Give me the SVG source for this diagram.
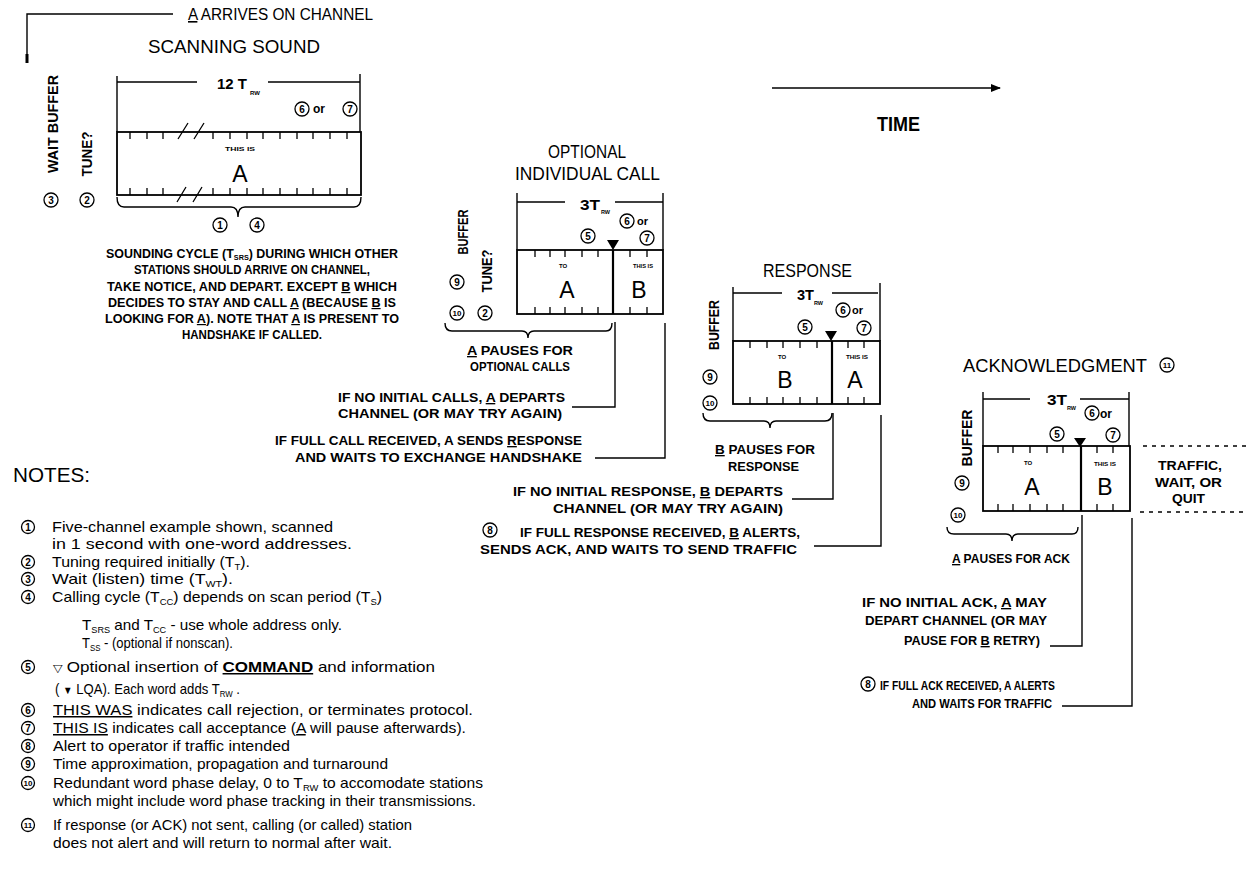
<svg xmlns="http://www.w3.org/2000/svg" width="1248" height="877" viewBox="0 0 1248 877">
<style>
text { font-family: "Liberation Sans", Arial, sans-serif; fill: #000; }
.b { font-weight: bold; }
.ln { stroke: #000; stroke-width: 1.4; fill: none; }
.tk { stroke: #000; stroke-width: 1.3; fill: none; }
.box { stroke: #000; stroke-width: 1.8; fill: #fff; }
.div { stroke: #000; stroke-width: 2.2; }
.dot { stroke: #000; stroke-width: 1.5; stroke-dasharray: 4 5; fill: none; }
.cn circle { fill: none; stroke: #000; stroke-width: 1.3; }
.cn text { font-size: 10px; font-weight: bold; text-anchor: middle; }
.cn text.s { font-size: 8px; }
.tiny { font-size: 6px; font-weight: bold; text-anchor: middle; }
.big { font-size: 23px; text-anchor: middle; }
.lab { font-size: 13.5px; font-weight: bold; }
.hd { font-size: 18px; }
.note { font-size: 15px; }
.sub { font-size: 9px; }
.sym { font-size: 11px; }
.u { text-decoration: underline; }
</style>
<defs>
<marker id="ah" markerWidth="10" markerHeight="8" refX="9" refY="4" orient="auto" markerUnits="userSpaceOnUse"><path d="M0,0 L10,4 L0,8 z" fill="#000"/></marker>
</defs>

<g id="connectors">
<path class="ln" d="M173,14 H27 V63"/>
<path d="M27,54 V63" stroke="#000" stroke-width="3"/>
<path class="ln" d="M772,88 H1000" marker-end="url(#ah)"/>
<path class="ln" d="M615,322 V407 H572"/>
<path class="ln" d="M665,323 V458 H595"/>
<path class="ln" d="M833,413 V499 H792"/>
<path class="ln" d="M881,415 V546 H814"/>
<path class="ln" d="M1082,515 V646 H1050"/>
<path class="ln" d="M1132,518 V706 H1062"/>
<path class="dot" d="M1143,446 H1248 M1140,512 H1248"/>
</g>

<g id="header">
<text x="188" y="20" font-size="16" textLength="185" lengthAdjust="spacingAndGlyphs"><tspan class="u">A</tspan> ARRIVES ON CHANNEL</text>
<text x="148" y="53" class="hd" font-size="20" textLength="172" lengthAdjust="spacingAndGlyphs">SCANNING SOUND</text>
<text x="877" y="131" class="b" font-size="21" textLength="43" lengthAdjust="spacingAndGlyphs">TIME</text>
</g>

<g id="scanning-sound">
<path class="ln" d="M117,76 V132 M360,74 V132 M117,82 H197 M268,82 H360"/>
<text x="217" y="89" class="b" font-size="15" textLength="30" lengthAdjust="spacingAndGlyphs">12 T</text>
<text x="250" y="95" class="b" font-size="6">RW</text>
<g class="cn"><circle cx="302" cy="109" r="7"/><text x="302" y="112.5">6</text></g>
<text x="313" y="113" class="b" font-size="12">or</text>
<g class="cn"><circle cx="350" cy="109" r="7"/><text x="350" y="112.5">7</text></g>
<rect class="box" x="117" y="132" width="244" height="63"/>
<path class="tk" d="M130,132 v7 M147,132 v7 M163,132 v7 M213,132 v7 M230,132 v7 M247,132 v7 M263,132 v7 M280,132 v7 M297,132 v7 M313,132 v7 M330,132 v7 M347,132 v7 M130,195 v-7 M147,195 v-7 M163,195 v-7 M213,195 v-7 M230,195 v-7 M247,195 v-7 M263,195 v-7 M280,195 v-7 M297,195 v-7 M313,195 v-7 M330,195 v-7 M347,195 v-7"/>
<path class="tk" d="M178,139 L188,123 M194,139 L204,123 M177,202 L186,187 M193,202 L202,187"/>
<text x="240" y="151" class="tiny" textLength="30" lengthAdjust="spacingAndGlyphs">THIS IS</text>
<text x="240" y="182" class="big" font-size="25">A</text>
<path class="ln" d="M117,197 Q117,207 124,207 H231 Q238,207 238,217 Q238,207 245,207 H354 Q361,207 361,197"/>
<g class="cn"><circle cx="220" cy="225" r="7"/><text x="220" y="228.5">1</text></g>
<g class="cn"><circle cx="257" cy="225" r="7"/><text x="257" y="228.5">4</text></g>
<text transform="translate(58,124) rotate(-90)" class="b" font-size="15" text-anchor="middle" textLength="98" lengthAdjust="spacingAndGlyphs">WAIT BUFFER</text>
<text transform="translate(92,154) rotate(-90)" class="b" font-size="15" text-anchor="middle" textLength="45" lengthAdjust="spacingAndGlyphs">TUNE?</text>
<g class="cn"><circle cx="51" cy="200" r="7"/><text x="51" y="203.5">3</text></g>
<g class="cn"><circle cx="87" cy="200" r="7"/><text x="87" y="203.5">2</text></g>
<g class="b" font-size="12" text-anchor="middle">
<text x="252" y="258" textLength="292" lengthAdjust="spacingAndGlyphs">SOUNDING CYCLE (T<tspan font-size="7" dy="2">SRS</tspan><tspan dy="-2">) DURING WHICH OTHER</tspan></text>
<text x="252" y="274" textLength="236" lengthAdjust="spacingAndGlyphs">STATIONS SHOULD ARRIVE ON CHANNEL,</text>
<text x="252" y="291" textLength="290" lengthAdjust="spacingAndGlyphs">TAKE NOTICE, AND DEPART.  EXCEPT <tspan class="u">B</tspan> WHICH</text>
<text x="252" y="307" textLength="288" lengthAdjust="spacingAndGlyphs">DECIDES TO STAY AND CALL <tspan class="u">A</tspan> (BECAUSE <tspan class="u">B</tspan> IS</text>
<text x="252" y="323" textLength="294" lengthAdjust="spacingAndGlyphs">LOOKING FOR <tspan class="u">A</tspan>). NOTE THAT <tspan class="u">A</tspan> IS PRESENT TO</text>
<text x="252" y="339" textLength="140" lengthAdjust="spacingAndGlyphs">HANDSHAKE IF CALLED.</text>
</g>
</g>

<g id="optional-individual-call">
<text x="587" y="158" class="hd" text-anchor="middle" textLength="78" lengthAdjust="spacingAndGlyphs">OPTIONAL</text>
<text x="515" y="180" class="hd" textLength="145" lengthAdjust="spacingAndGlyphs">INDIVIDUAL CALL</text>
<path class="ln" d="M517,193 V250 M663,193 V250 M517,202 H565 M615,202 H663"/>
<text x="580" y="210" class="b" font-size="14" textLength="20" lengthAdjust="spacingAndGlyphs">3T</text>
<text x="601" y="214" class="b" font-size="5.5">RW</text>
<g class="cn"><circle cx="627" cy="221" r="7"/><text x="627" y="224.5">6</text></g>
<text x="637" y="225" class="b" font-size="11">or</text>
<g class="cn"><circle cx="588" cy="236" r="7"/><text x="588" y="239.5">5</text></g>
<g class="cn"><circle cx="647" cy="238" r="7"/><text x="647" y="241.5">7</text></g>
<polygon points="607,240 619,240 613,250" fill="#000"/>
<rect class="box" x="517" y="250" width="146" height="64"/>
<path class="div" d="M613,250 V314"/>
<path class="tk" d="M535,250 v7 M550,250 v7 M565,250 v7 M582,250 v7 M598,250 v7 M630,250 v7 M647,250 v7 M535,314 v-7 M550,314 v-7 M565,314 v-7 M582,314 v-7 M598,314 v-7 M630,314 v-7 M647,314 v-7"/>
<text x="563" y="268" class="tiny">TO</text>
<text x="643" y="268" class="tiny" textLength="20" lengthAdjust="spacingAndGlyphs">THIS IS</text>
<text x="567" y="298" class="big">A</text>
<text x="639" y="298" class="big">B</text>
<text transform="translate(468,232) rotate(-90)" class="b" font-size="14" text-anchor="middle" textLength="45" lengthAdjust="spacingAndGlyphs">BUFFER</text>
<text transform="translate(492,271) rotate(-90)" class="b" font-size="14" text-anchor="middle" textLength="43" lengthAdjust="spacingAndGlyphs">TUNE?</text>
<g class="cn"><circle cx="457" cy="282" r="7"/><text x="457" y="285.5">9</text></g>
<g class="cn"><circle cx="457" cy="313" r="7"/><text class="s" x="457" y="316">10</text></g>
<g class="cn"><circle cx="485" cy="313" r="7"/><text x="485" y="316.5">2</text></g>
<path class="ln" d="M445,323 Q445,331 452,331 H522 Q528,331 528,338 Q528,331 534,331 H606 Q612,331 612,323"/>
<text x="467" y="355" class="lab" textLength="106" lengthAdjust="spacingAndGlyphs"><tspan class="u">A</tspan> PAUSES FOR</text>
<text x="520" y="371" class="lab" text-anchor="middle" textLength="100" lengthAdjust="spacingAndGlyphs">OPTIONAL CALLS</text>
<text x="565" y="402" class="lab" text-anchor="end" textLength="227" lengthAdjust="spacingAndGlyphs">IF NO INITIAL CALLS, <tspan class="u">A</tspan> DEPARTS</text>
<text x="562" y="418" class="lab" text-anchor="end" textLength="224" lengthAdjust="spacingAndGlyphs">CHANNEL (OR MAY TRY AGAIN)</text>
<text x="582" y="445" class="lab" text-anchor="end" textLength="307" lengthAdjust="spacingAndGlyphs">IF FULL CALL RECEIVED, A SENDS <tspan class="u">R</tspan>ESPONSE</text>
<text x="582" y="462" class="lab" text-anchor="end" textLength="287" lengthAdjust="spacingAndGlyphs">AND WAITS TO EXCHANGE HANDSHAKE</text>
</g>

<g id="response">
<text x="763" y="277" class="hd" textLength="89" lengthAdjust="spacingAndGlyphs">RESPONSE</text>
<path class="ln" d="M733,287 V341 M880,283 V341 M733,293 H782 M832,293 H878"/>
<text x="797" y="300" class="b" font-size="14" textLength="17" lengthAdjust="spacingAndGlyphs">3T</text>
<text x="814" y="305" class="b" font-size="5.5">RW</text>
<g class="cn"><circle cx="843" cy="310" r="7"/><text x="843" y="313.5">6</text></g>
<text x="852" y="314" class="b" font-size="11">or</text>
<g class="cn"><circle cx="805" cy="327" r="7"/><text x="805" y="330.5">5</text></g>
<g class="cn"><circle cx="864" cy="328" r="7"/><text x="864" y="331.5">7</text></g>
<polygon points="825,331 837,331 831,341" fill="#000"/>
<rect class="box" x="733" y="341" width="147" height="63"/>
<path class="div" d="M832,341 V404"/>
<path class="tk" d="M750,341 v7 M767,341 v7 M783,341 v7 M800,341 v7 M817,341 v7 M848,341 v7 M864,341 v7 M750,404 v-7 M767,404 v-7 M783,404 v-7 M800,404 v-7 M817,404 v-7 M848,404 v-7 M864,404 v-7"/>
<text x="782" y="359" class="tiny">TO</text>
<text x="857" y="359" class="tiny" textLength="22" lengthAdjust="spacingAndGlyphs">THIS IS</text>
<text x="785" y="388" class="big">B</text>
<text x="855" y="388" class="big">A</text>
<text transform="translate(719,325) rotate(-90)" class="b" font-size="14" text-anchor="middle" textLength="50" lengthAdjust="spacingAndGlyphs">BUFFER</text>
<g class="cn"><circle cx="710" cy="377" r="7"/><text x="710" y="380.5">9</text></g>
<g class="cn"><circle cx="710" cy="403" r="7"/><text class="s" x="710" y="406">10</text></g>
<path class="ln" d="M703,413 Q703,421 710,421 H764 Q770,421 770,428 Q770,421 776,421 H825 Q832,421 832,413"/>
<text x="715" y="454" class="lab" textLength="100" lengthAdjust="spacingAndGlyphs"><tspan class="u">B</tspan> PAUSES FOR</text>
<text x="728" y="471" class="lab" textLength="71" lengthAdjust="spacingAndGlyphs">RESPONSE</text>
<text x="783" y="496" class="lab" text-anchor="end" textLength="270" lengthAdjust="spacingAndGlyphs">IF NO INITIAL RESPONSE, <tspan class="u">B</tspan> DEPARTS</text>
<text x="783" y="513" class="lab" text-anchor="end" textLength="230" lengthAdjust="spacingAndGlyphs">CHANNEL (OR MAY TRY AGAIN)</text>
<g class="cn"><circle cx="490" cy="530" r="7"/><text x="490" y="533.5">8</text></g>
<text x="800" y="537" class="lab" text-anchor="end" textLength="280" lengthAdjust="spacingAndGlyphs">IF FULL RESPONSE RECEIVED, <tspan class="u">B</tspan> ALERTS,</text>
<text x="797" y="554" class="lab" text-anchor="end" textLength="317" lengthAdjust="spacingAndGlyphs">SENDS ACK, AND WAITS TO SEND TRAFFIC</text>
</g>

<g id="acknowledgment">
<text x="963" y="372" class="hd" textLength="184" lengthAdjust="spacingAndGlyphs">ACKNOWLEDGMENT</text>
<g class="cn"><circle cx="1167" cy="365" r="7"/><text class="s" x="1167" y="368">11</text></g>
<path class="ln" d="M983,392 V446 M1129,392 V446 M983,399 H1030 M1080,399 H1129"/>
<text x="1047" y="405" class="b" font-size="14" textLength="20" lengthAdjust="spacingAndGlyphs">3T</text>
<text x="1067" y="410" class="b" font-size="5.5">RW</text>
<g class="cn"><circle cx="1092" cy="413" r="7"/><text x="1092" y="416.5">6</text></g>
<text x="1100" y="418" class="b" font-size="12">or</text>
<g class="cn"><circle cx="1057" cy="434" r="7"/><text x="1057" y="437.5">5</text></g>
<g class="cn"><circle cx="1113" cy="435" r="7"/><text x="1113" y="438.5">7</text></g>
<polygon points="1074,438 1086,438 1080,447" fill="#000"/>
<rect class="box" x="983" y="446" width="147" height="65"/>
<path class="div" d="M1081,446 V511"/>
<path class="tk" d="M998,446 v7 M1013,446 v7 M1030,446 v7 M1047,446 v7 M1063,446 v7 M1097,446 v7 M1113,446 v7 M998,511 v-7 M1013,511 v-7 M1030,511 v-7 M1047,511 v-7 M1063,511 v-7 M1097,511 v-7 M1113,511 v-7"/>
<text x="1028" y="465" class="tiny">TO</text>
<text x="1105" y="466" class="tiny" textLength="22" lengthAdjust="spacingAndGlyphs">THIS IS</text>
<text x="1032" y="495" class="big" font-size="25">A</text>
<text x="1105" y="495" class="big" font-size="25">B</text>
<text x="1158" y="470" class="lab" textLength="64" lengthAdjust="spacingAndGlyphs">TRAFFIC,</text>
<text x="1155" y="487" class="lab" textLength="67" lengthAdjust="spacingAndGlyphs">WAIT, OR</text>
<text x="1172" y="503" class="lab" textLength="33" lengthAdjust="spacingAndGlyphs">QUIT</text>
<text transform="translate(972,438) rotate(-90)" class="b" font-size="14" text-anchor="middle" textLength="57" lengthAdjust="spacingAndGlyphs">BUFFER</text>
<g class="cn"><circle cx="962" cy="483" r="7"/><text x="962" y="486.5">9</text></g>
<g class="cn"><circle cx="958" cy="515" r="7"/><text class="s" x="958" y="518">10</text></g>
<path class="ln" d="M947,527 Q947,534 954,534 H1006 Q1012,534 1012,541 Q1012,534 1018,534 H1072 Q1078,534 1078,527"/>
<text x="1011" y="563" class="lab" text-anchor="middle" textLength="118" lengthAdjust="spacingAndGlyphs"><tspan class="u">A</tspan> PAUSES FOR ACK</text>
<text x="1047" y="607" class="lab" text-anchor="end" textLength="185" lengthAdjust="spacingAndGlyphs">IF NO INITIAL ACK, <tspan class="u">A</tspan> MAY</text>
<text x="1047" y="625" class="lab" text-anchor="end" textLength="182" lengthAdjust="spacingAndGlyphs">DEPART CHANNEL (OR MAY</text>
<text x="1040" y="645" class="lab" text-anchor="end" textLength="136" lengthAdjust="spacingAndGlyphs">PAUSE FOR <tspan class="u">B</tspan> RETRY)</text>
<g class="cn"><circle cx="868" cy="684" r="7"/><text x="868" y="687.5">8</text></g>
<text x="1055" y="690" class="lab" text-anchor="end" textLength="175" lengthAdjust="spacingAndGlyphs">IF FULL ACK RECEIVED, A ALERTS</text>
<text x="1052" y="708" class="lab" text-anchor="end" textLength="140" lengthAdjust="spacingAndGlyphs">AND WAITS FOR TRAFFIC</text>
</g>

<g id="notes">
<text x="13" y="482" font-size="20" textLength="77" lengthAdjust="spacingAndGlyphs">NOTES:</text>
<g class="cn">
<circle cx="28" cy="527" r="6.5"/><text x="28" y="530.5">1</text>
<circle cx="28" cy="562" r="6.5"/><text x="28" y="565.5">2</text>
<circle cx="28" cy="579" r="6.5"/><text x="28" y="582.5">3</text>
<circle cx="28" cy="597" r="6.5"/><text x="28" y="600.5">4</text>
<circle cx="28" cy="667" r="6.5"/><text x="28" y="670.5">5</text>
<circle cx="28" cy="710" r="6.5"/><text x="28" y="713.5">6</text>
<circle cx="28" cy="728" r="6.5"/><text x="28" y="731.5">7</text>
<circle cx="28" cy="746" r="6.5"/><text x="28" y="749.5">8</text>
<circle cx="28" cy="764" r="6.5"/><text x="28" y="767.5">9</text>
<circle cx="28" cy="783" r="6.5"/><text class="s" x="28" y="786">10</text>
<circle cx="28" cy="825" r="6.5"/><text class="s" x="28" y="828">11</text>
</g>
<g class="note">
<text x="52" y="532" textLength="281" lengthAdjust="spacingAndGlyphs">Five-channel example shown, scanned</text>
<text x="52" y="549" textLength="300" lengthAdjust="spacingAndGlyphs">in 1 second with one-word addresses.</text>
<text x="52" y="567" textLength="198" lengthAdjust="spacingAndGlyphs">Tuning required initially (T<tspan class="sub" dy="3">T</tspan><tspan dy="-3">).</tspan></text>
<text x="52" y="584" textLength="181" lengthAdjust="spacingAndGlyphs">Wait (listen) time (T<tspan class="sub" dy="3">WT</tspan><tspan dy="-3">).</tspan></text>
<text x="52" y="602" textLength="330" lengthAdjust="spacingAndGlyphs">Calling cycle (T<tspan class="sub" dy="3">CC</tspan><tspan dy="-3">) depends on scan period (T</tspan><tspan class="sub" dy="3">S</tspan><tspan dy="-3">)</tspan></text>
<text x="82" y="630" textLength="260" lengthAdjust="spacingAndGlyphs">T<tspan class="sub" dy="3">SRS</tspan><tspan dy="-3"> and T</tspan><tspan class="sub" dy="3">CC</tspan><tspan dy="-3">  - use whole address only.</tspan></text>
<text x="82" y="648" textLength="151" lengthAdjust="spacingAndGlyphs">T<tspan class="sub" dy="3">SS</tspan><tspan dy="-3"> - (optional if nonscan).</tspan></text>
<text x="53" y="672" textLength="382" lengthAdjust="spacingAndGlyphs"><tspan class="sym">▽</tspan> Optional insertion of  <tspan class="u b">COMMAND</tspan> and information</text>
<text x="55" y="694" textLength="185" lengthAdjust="spacingAndGlyphs">( <tspan class="sym">▼</tspan> LQA).  Each word adds T<tspan class="sub" dy="3">RW</tspan><tspan dy="-3"> .</tspan></text>
<text x="53" y="715" textLength="420" lengthAdjust="spacingAndGlyphs"><tspan class="u">THIS WAS</tspan> indicates call rejection, or terminates protocol.</text>
<text x="53" y="733" textLength="413" lengthAdjust="spacingAndGlyphs"><tspan class="u">THIS IS</tspan> indicates call acceptance (<tspan class="u">A</tspan> will pause afterwards).</text>
<text x="53" y="751" textLength="237" lengthAdjust="spacingAndGlyphs">Alert to operator if traffic intended</text>
<text x="53" y="769" textLength="335" lengthAdjust="spacingAndGlyphs">Time approximation, propagation and turnaround</text>
<text x="53" y="788" textLength="430" lengthAdjust="spacingAndGlyphs">Redundant word phase delay, 0 to T<tspan class="sub" dy="3">RW</tspan><tspan dy="-3"> to accomodate stations</tspan></text>
<text x="53" y="806" textLength="423" lengthAdjust="spacingAndGlyphs">which might include word phase tracking in their transmissions.</text>
<text x="53" y="830" textLength="359" lengthAdjust="spacingAndGlyphs">If response (or ACK) not sent, calling (or called) station</text>
<text x="53" y="848" textLength="339" lengthAdjust="spacingAndGlyphs">does not alert and will return to normal after wait.</text>
</g>
</g>
</svg>
